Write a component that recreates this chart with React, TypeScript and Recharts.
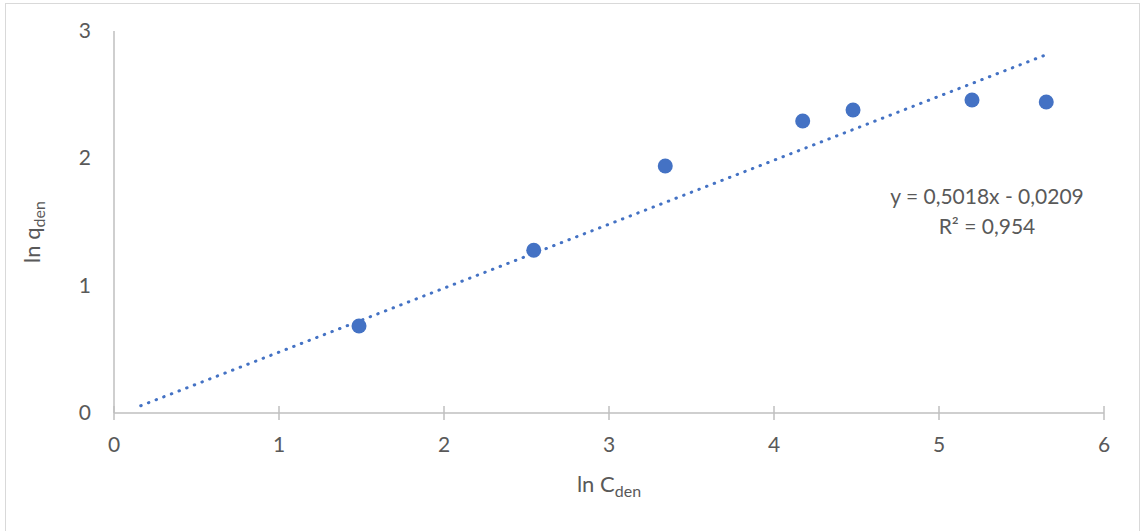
import React from 'react';
import { ScatterChart, Scatter, XAxis, YAxis, Customized, Label } from 'recharts';

const lnC = [1.485, 2.544, 3.341, 4.174, 4.479, 5.2, 5.65];
const lnQ = [0.683, 1.278, 1.94, 2.293, 2.38, 2.458, 2.442];
const trendX = [0.162, 5.65];
const trendY = [0.057, 2.814];
const xTicks = [0, 1, 2, 3, 4, 5, 6];
const yTicks = [0, 1, 2, 3];
const equationText = 'y = 0,5018x - 0,0209';
const r2Text = 'R² = 0,954';

const points = lnC.map((x, i) => ({ x, y: lnQ[i] }));
const trend = trendX.map((x, i) => ({ x, y: trendY[i] }));

const FONT = 'Lato, "Open Sans", sans-serif';
const TEXT = '#595959';
const AXIS = '#bfbfbf';
const BLUE = '#4472C4';

const XTick = (props: any) => {
  const { x, y, payload } = props;
  return (
    <g>
      <line x1={x} x2={x} y1={y - 7} y2={y + 7} stroke={AXIS} strokeWidth={1.5} />
      <text x={x} y={y + 39} textAnchor="middle" fill={TEXT} fontSize={21} fontFamily={FONT}>
        {payload.value}
      </text>
    </g>
  );
};

const YTick = (props: any) => {
  const { x, y, payload } = props;
  return (
    <text x={x} y={y + 7} textAnchor="end" fill={TEXT} fontSize={21} fontFamily={FONT}>
      {payload.value}
    </text>
  );
};

const XLabel = (props: any) => {
  const vb = props.viewBox || {};
  const cx = vb.x + vb.width / 2;
  return (
    <text x={cx} y={492} textAnchor="middle" fill={TEXT} fontSize={22} fontFamily={FONT}>
      ln C<tspan fontSize={16} dy={5}>den</tspan>
    </text>
  );
};

const YLabel = () => {
  const cx = 40;
  const cy = 232;
  return (
    <text x={cx} y={cy} textAnchor="middle" fill={TEXT} fontSize={22} fontFamily={FONT}
      transform={`rotate(-90 ${cx} ${cy})`}>
      ln q<tspan fontSize={16} dy={5}>den</tspan>
    </text>
  );
};

const Equation = () => (
  <g fontFamily={FONT} fontSize={21} fill={TEXT}>
    <text x={987} y={204} textAnchor="middle">{equationText}</text>
    <text x={987} y={234} textAnchor="middle">{r2Text}</text>
  </g>
);

export default function App() {
  return (
    <div style={{ position: 'absolute', left: 0, top: 0, width: 1144, height: 531, background: '#fff', overflow: 'hidden' }}>
      <div style={{ position: 'absolute', left: 5, top: 3, width: 1133, height: 560, border: '1.5px solid #d9d9d9' }} />
      <div style={{ position: 'absolute', left: 0, top: 0 }}>
        <ScatterChart width={1144} height={531} margin={{ top: 31, right: 40, bottom: 58, left: 54 }}>
          <XAxis
            type="number"
            dataKey="x"
            domain={[0, 6]}
            ticks={xTicks}
            interval={0}
            height={60}
            stroke={AXIS}
            strokeWidth={1.5}
            tickLine={false}
            tickSize={0}
            tickMargin={0}
            tick={<XTick />}
            allowDataOverflow
          >
            <Label content={<XLabel />} />
          </XAxis>
          <YAxis
            type="number"
            dataKey="y"
            domain={[0, 3]}
            ticks={yTicks}
            interval={0}
            width={60}
            stroke={AXIS}
            strokeWidth={1.5}
            tickLine={false}
            tickSize={6}
            tickMargin={17}
            tick={<YTick />}
            allowDataOverflow
          >
            <Label content={<YLabel />} />
          </YAxis>
          <Scatter
            data={trend}
            line={{ stroke: BLUE, strokeWidth: 3, strokeDasharray: '0.5 7.7', strokeLinecap: 'round' }}
            shape={() => null}
            isAnimationActive={false}
          />
          <Scatter
            data={points}
            fill={BLUE}
            shape={(p: any) => <circle cx={p.cx} cy={p.cy} r={7.5} fill={BLUE} />}
            isAnimationActive={false}
          />
          <Customized component={Equation} />
        </ScatterChart>
      </div>
    </div>
  );
}
